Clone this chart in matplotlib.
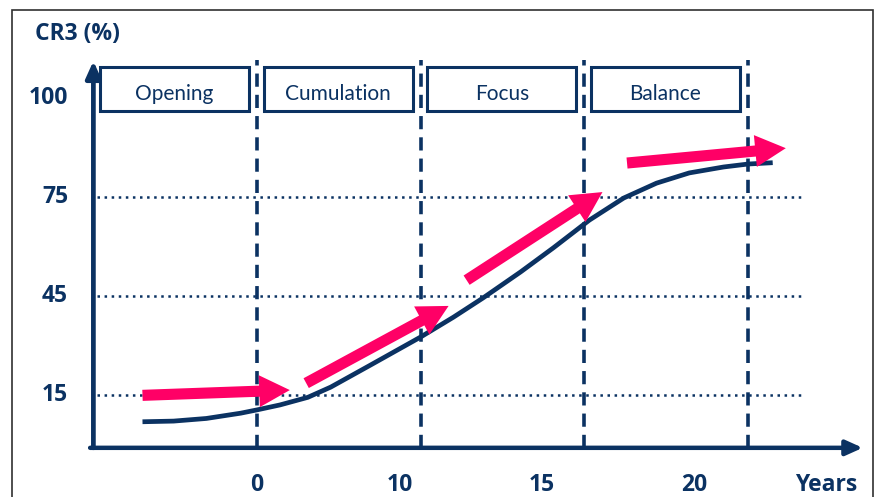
import matplotlib
matplotlib.use("Agg")
import matplotlib.pyplot as plt
from matplotlib.patches import Rectangle

OUT_FILE = "out.png"

NAVY = "#0b3262"
PINK = "#ff0066"

# phase boundaries sit at x = 1, 2, 3, 4 (axis units are "phases")
PHASES = ["Opening", "Cumulation", "Focus", "Balance"]
PHASE_BOUNDS = [1, 2, 3, 4]

# y axis is linear in drawing units, labels are not
Y_TICK_POS = [15, 45, 75, 105]
Y_TICK_LABELS = ["15", "45", "75", "100"]
GRID_LEVELS = [15, 45, 75]

X_TICK_POS = [1.0, 1.87, 2.74, 3.67]
X_TICK_LABELS = ["0", "10", "15", "20"]

# S-curve
CURVE_X = [0.30, 0.49, 0.69, 0.90, 1.00, 1.14, 1.31, 1.45, 1.69, 2.00,
           2.20, 2.38, 2.61, 2.81, 3.03, 3.24, 3.44, 3.64, 3.85, 4.00, 4.15]
CURVE_Y = [6.9, 7.1, 7.9, 9.5, 10.5, 12.0, 14.3, 17.4, 24.0, 32.6,
           38.6, 44.4, 52.3, 59.6, 68.0, 74.7, 79.2, 82.3, 84.1, 85.0, 85.4]

# pink trend arrows: (tail, tip)
ARROWS = [
    ((0.30, 14.9), (1.20, 16.5)),
    ((1.30, 18.6), (2.17, 42.0)),
    ((2.28, 49.8), (3.11, 76.5)),
    ((3.26, 85.3), (4.23, 89.8)),
]


def generate_chart():
    plt.rcParams["font.family"] = ["Lato", "DejaVu Sans"]
    plt.rcParams["lines.scale_dashes"] = False

    fig = plt.figure(figsize=(8.76, 4.97), dpi=100)
    ax = fig.add_axes([0, 0, 1, 1])
    ax.set_xlim(-0.5705, 4.781)
    ax.set_ylim(-15.9, 134.7)
    ax.axis("off")

    # outer frame
    fig.add_artist(Rectangle((12 / 876, -0.1), (873 - 12) / 876, 1 - 10 / 497 + 0.1,
                             transform=fig.transFigure, fill=False,
                             ec="#303030", lw=1.2))

    # dotted guide lines
    for lvl in GRID_LEVELS:
        ax.plot([0.02, 4.335], [lvl, lvl], color=NAVY, lw=1.8,
                dashes=[1.8, 3.3], solid_capstyle="butt")

    # dashed phase boundaries
    for b in PHASE_BOUNDS:
        ax.plot([b, b], [-1, 116.5], color=NAVY, lw=2.6, dashes=[9.5, 5.8])

    # phase boxes
    for i, name in enumerate(PHASES):
        ax.add_patch(Rectangle((i + 0.04, 101.1), 0.91, 13.3, fill=True,
                               fc="white", ec=NAVY, lw=2.2, zorder=3))
        ax.text(i + 0.495, 104.3, name, ha="center", va="baseline",
                fontsize=15, color=NAVY, zorder=4)

    # axes with arrow heads
    ax.annotate("", xy=(0, 116.2), xytext=(0, -1),
                arrowprops=dict(arrowstyle="-|>,head_length=1.0,head_width=0.45",
                                lw=3.4, color=NAVY, shrinkA=0, shrinkB=0,
                                mutation_scale=10))
    ax.annotate("", xy=(4.70, -1), xytext=(-0.02, -1),
                arrowprops=dict(arrowstyle="-|>,head_length=1.0,head_width=0.45",
                                lw=3.2, color=NAVY, shrinkA=0, shrinkB=0,
                                mutation_scale=10))

    # curve
    ax.plot(CURVE_X, CURVE_Y, color=NAVY, lw=3.4, solid_capstyle="butt",
            solid_joinstyle="round", zorder=5)

    # pink arrows
    for tail, tip in ARROWS:
        ax.annotate("", xy=tip, xytext=tail, zorder=6,
                    arrowprops=dict(arrowstyle="simple,head_length=2.2,head_width=2.3,tail_width=0.8",
                                    fc=PINK, ec="none", shrinkA=0, shrinkB=0,
                                    mutation_scale=10))

    # labels
    bold = dict(fontsize=16.5, fontweight="bold", color=NAVY,
                family=["Open Sans", "DejaVu Sans"])
    ax.text(-0.354, 124.5, "CR3 (%)", ha="left", va="center", **bold)
    for pos, lab in zip(Y_TICK_POS, Y_TICK_LABELS):
        ax.text(-0.155, pos, lab, ha="right", va="center", **bold)
    for pos, lab in zip(X_TICK_POS, X_TICK_LABELS):
        ax.text(pos, -12.2, lab, ha="center", va="center", **bold)
    ax.text(4.475, -12.2, "Years", ha="center", va="center", **bold)

    fig.savefig(OUT_FILE, dpi=100)
    print(f"[chart] Saved: {OUT_FILE}")


if __name__ == "__main__":
    generate_chart()
